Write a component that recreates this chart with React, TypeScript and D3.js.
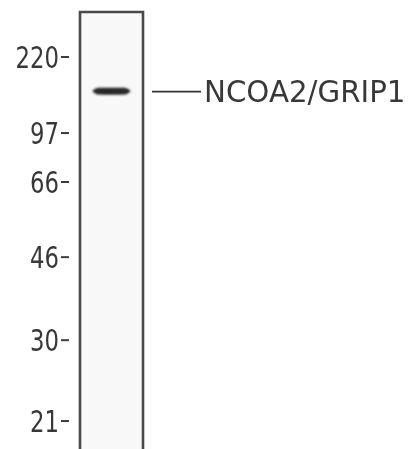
import React from "react";
import * as d3 from "d3";

// Marker ladder (kDa) and their relative migration (fraction of lane length) read from the blot
const markerLabels = ["220", "97", "66", "46", "30", "21"];
const markerRf = [0.103, 0.277, 0.389, 0.561, 0.751, 0.936];

// Detected band
const bandNames = ["NCOA2/GRIP1"];
const bandRf = [0.181];
const bandIntensity = [0.95];

const W = 410;
const H = 449;

export default function App() {
  const laneLeft = 80;
  const laneRight = 143;
  const laneTop = 12;
  const laneBottom = H;
  const y = d3.scaleLinear().domain([0, 1]).range([laneTop, laneBottom]);
  const laneMid = (laneLeft + laneRight) / 2;
  const bandHalf = 19;

  const bandPath = (cy: number) => {
    const pts: [number, number][] = [
      [laneMid - bandHalf, cy],
      [laneMid - bandHalf + 5, cy - 3.2],
      [laneMid + bandHalf - 5, cy - 3.2],
      [laneMid + bandHalf, cy],
      [laneMid + bandHalf - 5, cy + 3.4],
      [laneMid - bandHalf + 5, cy + 3.4],
    ];
    return d3.line().curve(d3.curveCardinalClosed.tension(0.6))(pts) || "";
  };

  return (
    <svg
      width={W}
      height={H}
      style={{ position: "absolute", left: 0, top: 0, background: "#fff" }}
      fontFamily="'DejaVu Sans', sans-serif"
    >
      <defs>
        <filter id="blur1" x="-20%" y="-100%" width="140%" height="300%">
          <feGaussianBlur stdDeviation="0.9" />
        </filter>
        <filter id="soft" x="-5%" y="-5%" width="110%" height="110%">
          <feGaussianBlur stdDeviation="0.35" />
        </filter>
      </defs>
      {/* lane */}
      <rect x={laneLeft} y={laneTop} width={laneRight - laneLeft} height={laneBottom - laneTop} fill="#f8f8f8" />
      <path
        d={`M${laneLeft},${laneBottom} V${laneTop} H${laneRight} V${laneBottom}`}
        fill="none"
        stroke="#4a4a4a"
        strokeWidth={2.6}
        filter="url(#soft)"
      />
      {/* band */}
      {bandRf.map((rf, i) => (
        <g key={bandNames[i]}>
          <path d={bandPath(y(rf))} fill="#1a1a1a" fillOpacity={bandIntensity[i]} filter="url(#blur1)" />
          <line x1={152} x2={201} y1={y(rf) + 0.5} y2={y(rf) + 0.5} stroke="#333" strokeWidth={1.6} />
          <text x={204} y={y(rf) + 10.5} fontSize={29.3} fill="#383838" filter="url(#soft)">
            {bandNames[i]}
          </text>
        </g>
      ))}
      {/* markers */}
      {markerRf.map((rf, i) => (
        <g key={markerLabels[i]} filter="url(#soft)">
          <line x1={61} x2={69} y1={y(rf)} y2={y(rf)} stroke="#3a3a3a" strokeWidth={2} />
          <text
            transform={`translate(59,${y(rf) + 11}) scale(0.76,1)`}
            textAnchor="end"
            fontSize={30}
            fill="#383838"
          >
            {markerLabels[i]}
          </text>
        </g>
      ))}
    </svg>
  );
}
